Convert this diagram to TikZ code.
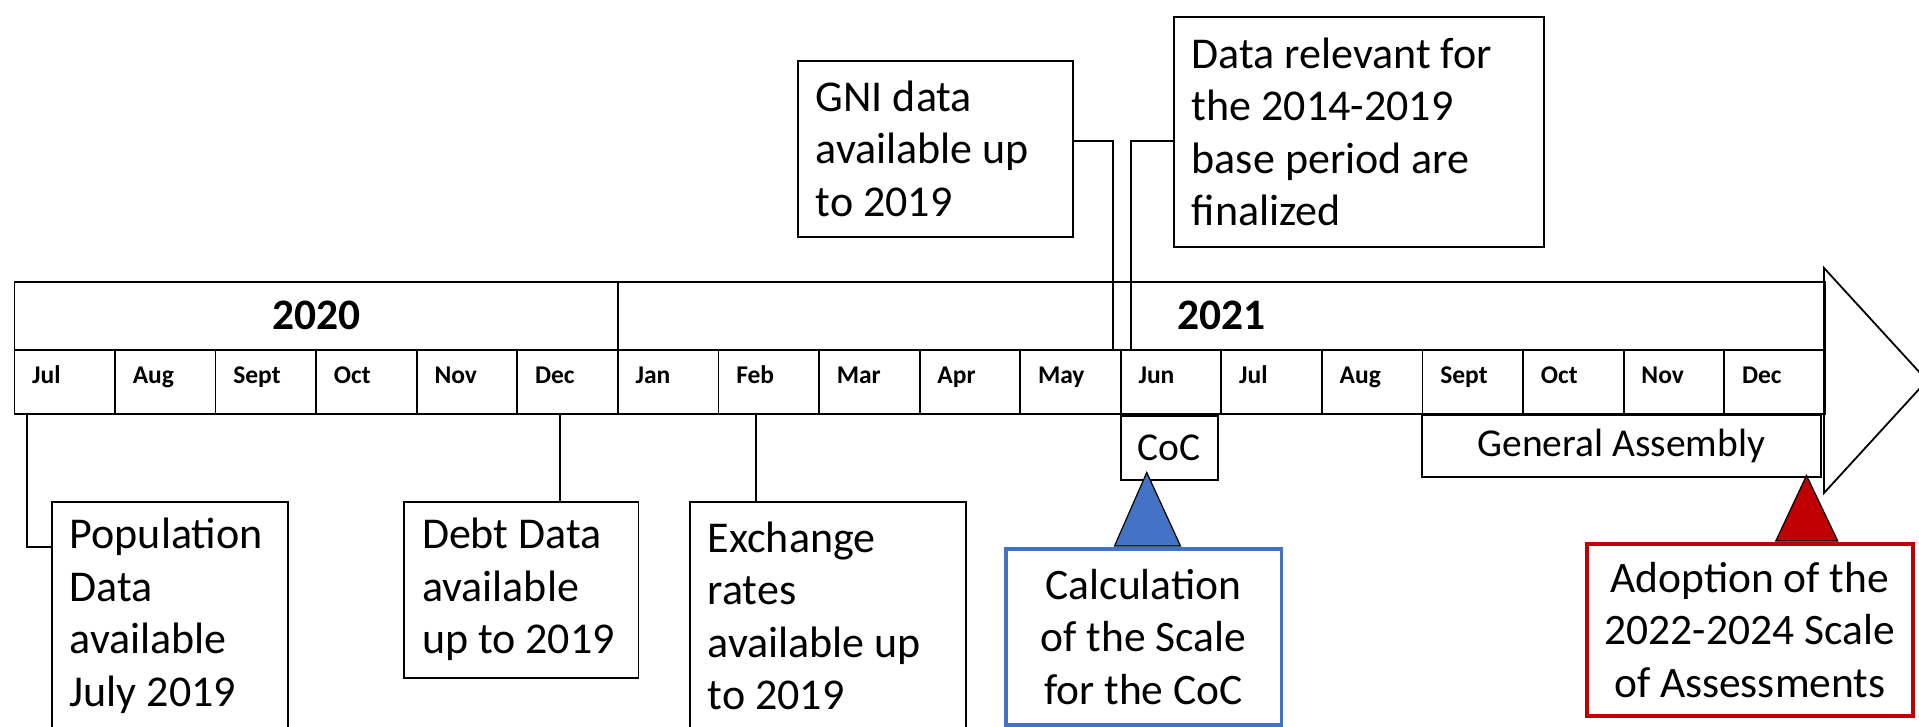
\documentclass[tikz,border=0pt]{standalone}
\usepackage{fontspec}
\setmainfont{Carlito}
\usetikzlibrary{calc}
\definecolor{blueC}{HTML}{4472C4}
\definecolor{redC}{HTML}{C00000}
\begin{document}
\begin{tikzpicture}[x=1pt,y=-1pt,
  cell/.style={draw=black, line width=1.8pt, minimum width=100.58pt, minimum height=64pt,
    inner sep=0pt, anchor=north west, text width=65pt, align=flush left,
    font=\fontsize{25.5}{30}\selectfont\bfseries, text height=18pt, text depth=14pt},
  yearcell/.style={draw=black, line width=1.8pt, minimum height=68pt, inner sep=0pt,
    anchor=north west, font=\fontsize{43.5}{50}\selectfont\bfseries, text height=28pt, text depth=0pt},
  box/.style={draw=black, line width=1.5pt, inner sep=0pt, anchor=north west,
    font=\fontsize{44}{52.5}\selectfont, align=flush left},
  cbox/.style={draw=black, line width=1.5pt, inner sep=0pt, anchor=north west,
    font=\fontsize{39.5}{47}\selectfont, align=center},
  callout/.style={line width=3.5pt, inner sep=0pt, anchor=north west,
    font=\fontsize{43.5}{52.5}\selectfont, align=center},
  conn/.style={draw=black, line width=2pt},
  pointer/.style={draw=black, line width=1.2pt, line join=miter}
]
\path[use as bounding box] (0,0) rectangle (1919,726);
\clip (0,0) rectangle (1919,726);

% big arrow head
\draw[line width=1.8pt, fill=white, line join=miter] (1824,268) -- (1927,380.5) -- (1824,493) -- cycle;

% year row
\node[yearcell, minimum width=603.5pt] (y2020) at (13.5,281) {2020};
\node[yearcell, minimum width=1207pt] (y2021) at (617,281) {2021};

% month row
\foreach \m [count=\i] in {Jul,Aug,Sept,Oct,Nov,Dec,Jan,Feb,Mar,Apr,May,Jun,Jul,Aug,Sept,Oct,Nov,Dec}
  \node[cell] (m\i) at ({13.5+(\i-1)*100.58},349) {\m};

% boxes below
\node[box, minimum width=236pt, minimum height=228pt, text width=200pt] (pop) at (51,501)
  {Population\\Data\\available\\July 2019};
\node[box, minimum width=234.5pt, minimum height=176pt, text width=198pt] (debt) at (403,501)
  {Debt Data\\available\\up to 2019};
\node[box, minimum width=276pt, minimum height=228pt, text width=240pt] (exch) at (689,501)
  {Exchange\\rates\\available up\\to 2019};

% boxes above
\node[box, minimum width=275pt, minimum height=176pt, text width=239pt] (gni) at (797,60)
  {GNI data\\available up\\to 2019};
\node[box, minimum width=370pt, minimum height=230pt, text width=334pt] (datarel) at (1173,16)
  {Data relevant for\\the 2014-2019\\base period are\\finalized};

% meetings
\node[cbox, minimum width=97pt, minimum height=64pt] (coc) at (1120,415) {CoC};
\node[cbox, minimum width=399pt, minimum height=62pt] (ga) at (1421,414) {General Assembly};

% callouts
\node[callout, draw=blueC, minimum width=275.5pt, minimum height=176pt] (calc) at (1004,547)
  {Calculation\\of the Scale\\for the CoC};
\node[callout, draw=redC, minimum width=326pt, minimum height=172pt] (adopt) at (1585,542)
  {Adoption of the\\2022-2024 Scale\\of Assessments};

% connectors
\draw[conn] ([xshift=13.5pt]m1.south west) |- ([yshift=-46pt]pop.north west);
\draw[conn] ([xshift=39pt]debt.north) -- ([xshift=39pt]debt.north |- m6.south);
\draw[conn] ([xshift=-72pt]exch.north) -- ([xshift=-72pt]exch.north |- m8.south);
\draw[conn] ([yshift=8pt]gni.east) -| ([xshift=-7pt]m12.north west);
\draw[conn] ([yshift=-9pt]datarel.west) -| ([xshift=11pt]m12.north west);

% pointers
\draw[pointer, fill=blueC] ([xshift=-22.5pt,yshift=8pt]coc.south)
  -- ([xshift=-29pt,yshift=1pt]calc.north) -- ([xshift=37pt,yshift=1pt]calc.north) -- cycle;
\draw[pointer, fill=redC] ([xshift=-15pt,yshift=2pt]ga.south east)
  -- ([xshift=26pt,yshift=1pt]adopt.north) -- ([xshift=88pt,yshift=1pt]adopt.north) -- cycle;
\end{tikzpicture}
\end{document}
